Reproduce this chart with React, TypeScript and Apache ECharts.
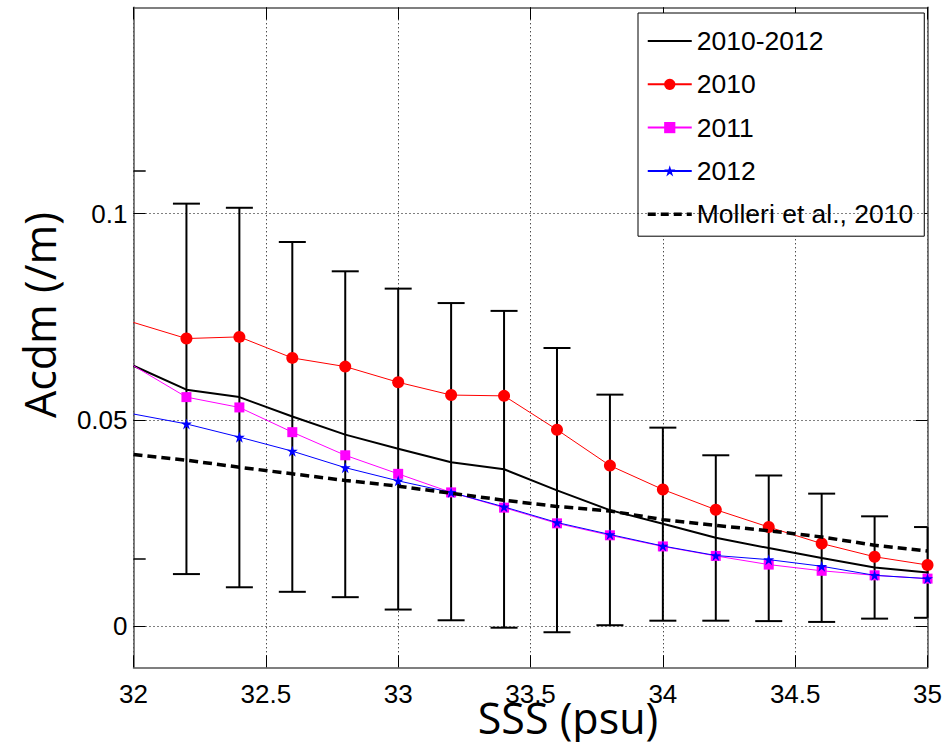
import React, { useEffect, useRef } from "react";
import * as echarts from "echarts";

// ---- data ----
const sss = [32, 32.2, 32.4, 32.6, 32.8, 33, 33.2, 33.4, 33.6, 33.8, 34, 34.2, 34.4, 34.6, 34.8, 35];
const mean2010_2012 = [0.0631, 0.0573, 0.0555, 0.0508, 0.0464, 0.0430, 0.0397, 0.0380, 0.0329, 0.0281, 0.0248, 0.0214, 0.0189, 0.0165, 0.0142, 0.0130];
const y2010 = [0.0736, 0.0697, 0.0701, 0.0650, 0.0629, 0.0591, 0.0560, 0.0558, 0.0476, 0.0389, 0.0331, 0.0282, 0.0240, 0.0200, 0.0168, 0.0148];
const y2011 = [0.0631, 0.0555, 0.0530, 0.0470, 0.0414, 0.0369, 0.0324, 0.0287, 0.0249, 0.0220, 0.0193, 0.0170, 0.0149, 0.0134, 0.0123, 0.0115];
const y2012 = [0.0514, 0.0490, 0.0458, 0.0424, 0.0384, 0.0352, 0.0324, 0.0289, 0.0251, 0.0222, 0.0194, 0.0171, 0.0161, 0.0145, 0.0123, 0.0115];
const molleri = [0.0416, 0.0402, 0.0385, 0.0369, 0.0353, 0.0339, 0.0322, 0.0305, 0.0290, 0.0279, 0.0258, 0.0244, 0.0231, 0.0216, 0.0196, 0.0182];

const errX = [32.2, 32.4, 32.6, 32.8, 33, 33.2, 33.4, 33.6, 33.8, 34, 34.2, 34.4, 34.6, 34.8, 35];
const errUpper = [0.1024, 0.1014, 0.0931, 0.0860, 0.0818, 0.0783, 0.0764, 0.0674, 0.0561, 0.0481, 0.0414, 0.0365, 0.0321, 0.0266, 0.0240];
const errLower = [0.0126, 0.0094, 0.0083, 0.0070, 0.0040, 0.0014, -0.0004, -0.0015, 0.0002, 0.0013, 0.0013, 0.0012, 0.0010, 0.0018, 0.0020];

const yTickValues = [0, 0.05, 0.1];
const strayLeftTicks = [0.0162, 0.1103];

const legendNames = ["2010-2012", "2010", "2011", "2012", "Molleri et al., 2010"];

const STAR = "path://M50,2 L61,36 L97,36 L68,57 L79,92 L50,70 L21,92 L32,57 L3,36 L39,36 Z";

const pairs = (ys: number[], hideFirst: boolean) =>
  sss.map((x, i) => (hideFirst && i === 0 ? { value: [x, ys[i]], symbol: "none" } : [x, ys[i]]));

export default function App() {
  const ref = useRef<HTMLDivElement>(null);

  useEffect(() => {
    if (!ref.current) return;
    const chart = echarts.init(ref.current, null, { renderer: "svg" });
    const axisLineStyle = { color: "#555", width: 1.5 };
    const tickStyle = { color: "#000", width: 1 };
    const labelFont = { fontSize: 26, fontFamily: "Liberation Sans", color: "#000" };

    const legendData = legendNames.map((n, i) => {
      if (i === 0) return { name: n, itemStyle: { opacity: 0 } };
      if (i === 4) return { name: n, itemStyle: { opacity: 0 }, lineStyle: { width: 3.5, type: [8, 5], color: "#000" } };
      return { name: n };
    });

    const option: any = {
      animation: false,
      backgroundColor: "#fff",
      grid: { left: 133.5, right: 16.5, top: 7.3, bottom: 74.7, show: false },
      xAxis: [
        {
          type: "value", min: 32, max: 35, interval: 0.5, position: "bottom",
          axisLine: { show: true, onZero: false, lineStyle: axisLineStyle },
          axisTick: { show: true, inside: true, length: 12, lineStyle: tickStyle },
          axisLabel: { ...labelFont, margin: 14, formatter: (v: number) => String(v) },
          splitLine: { show: true, lineStyle: { color: "#000", width: 1, type: [1, 3] } },
        },
        {
          type: "value", min: 32, max: 35, interval: 0.5, position: "top",
          axisLine: { show: true, onZero: false, lineStyle: axisLineStyle },
          axisTick: { show: true, inside: true, length: 12, lineStyle: tickStyle },
          axisLabel: { show: false },
          splitLine: { show: false },
        },
      ],
      yAxis: [
        {
          type: "value", min: -0.01, max: 0.15, position: "left",
          axisLine: { show: true, onZero: false, lineStyle: axisLineStyle },
          axisTick: { show: true, inside: true, length: 12, lineStyle: tickStyle, customValues: yTickValues },
          axisLabel: { ...labelFont, margin: 6, customValues: yTickValues, formatter: (v: number) => String(v) },
          splitLine: { show: false },
        },
        {
          type: "value", min: -0.01, max: 0.15, position: "right",
          axisLine: { show: true, onZero: false, lineStyle: axisLineStyle },
          axisTick: { show: true, inside: true, length: 12, lineStyle: tickStyle, customValues: yTickValues },
          axisLabel: { show: false },
          splitLine: { show: false },
        },
      ],
      legend: {
        orient: "vertical", left: 638, top: 13,
        padding: [13, 11, 7, 8], itemGap: 13.3, itemWidth: 44, itemHeight: 14,
        backgroundColor: "#fff", borderColor: "#000", borderWidth: 1, borderRadius: 0,
        selectedMode: false,
        textStyle: { fontSize: 26.5, fontFamily: "Liberation Sans", color: "#000", lineHeight: 30 },
        data: legendData,
      },
      graphic: [
        {
          type: "text", x: 568, y: 717,
          style: { text: "SSS (psu)", fontSize: 43, fontFamily: "Open Sans", fill: "#000", align: "center", verticalAlign: "middle" },
        },
        {
          type: "text", x: 39, y: 315, rotation: Math.PI / 2,
          style: { text: "Acdm (/m)", fontSize: 43, fontFamily: "Open Sans", fill: "#000", align: "center", verticalAlign: "middle" },
        },
      ],
      series: [
        {
          type: "custom", name: "errorbars", z: 2,
          data: errX.map((x, i) => [x, errLower[i], errUpper[i]]),
          encode: { x: 0, y: [1, 2] },
          renderItem: (params: any, api: any) => {
            const x = api.value(0);
            const pLo = api.coord([x, api.value(1)]);
            const pHi = api.coord([x, api.value(2)]);
            const cs = params.coordSys;
            const right = cs.x + cs.width;
            const hw = 13.5;
            const style = { stroke: "#000", lineWidth: 2 };
            return {
              type: "group",
              children: [
                { type: "line", shape: { x1: pLo[0], y1: pLo[1], x2: pHi[0], y2: pHi[1] }, style },
                { type: "line", shape: { x1: pLo[0] - hw, y1: pLo[1], x2: Math.min(pLo[0] + hw, right), y2: pLo[1] }, style },
                { type: "line", shape: { x1: pHi[0] - hw, y1: pHi[1], x2: Math.min(pHi[0] + hw, right), y2: pHi[1] }, style },
              ],
            };
          },
        },
        {
          type: "line", name: "2010-2012", z: 3,
          data: pairs(mean2010_2012, false),
          symbol: "none",
          lineStyle: { color: "#000", width: 2 },
          itemStyle: { color: "#000" },
          markLine: {
            silent: true, symbol: ["none", "none"], label: { show: false }, animation: false,
            lineStyle: { color: "#000", width: 1, type: [1, 3] },
            data: [
              ...yTickValues.map((v) => ({ yAxis: v })),
              ...strayLeftTicks.map((v) => [
                { coord: [32, v], lineStyle: { type: "solid", width: 1.5, color: "#000" } },
                { coord: [32.046, v] },
              ]),
            ],
          },
        },
        {
          type: "line", name: "2010", z: 4,
          data: pairs(y2010, true),
          symbol: "circle", symbolSize: 12, showAllSymbol: true,
          lineStyle: { color: "#ff0000", width: 1 },
          itemStyle: { color: "#ff0000" },
        },
        {
          type: "line", name: "2011", z: 5,
          data: pairs(y2011, true),
          symbol: "rect", symbolSize: 10, showAllSymbol: true,
          lineStyle: { color: "#ff00ff", width: 1 },
          itemStyle: { color: "#ff00ff" },
        },
        {
          type: "line", name: "2012", z: 6,
          data: pairs(y2012, true),
          symbol: STAR, symbolSize: 11, showAllSymbol: true,
          lineStyle: { color: "#0000ff", width: 1 },
          itemStyle: { color: "#0000ff" },
        },
        {
          type: "line", name: "Molleri et al., 2010", z: 7,
          data: pairs(molleri, false),
          symbol: "none",
          lineStyle: { color: "#000", width: 3.5, type: [9, 5] },
          itemStyle: { color: "#000" },
        },
      ],
    };
    chart.setOption(option);
    return () => chart.dispose();
  }, []);

  return (
    <div
      ref={ref}
      style={{ position: "fixed", left: 0, top: 0, width: 945, height: 742, background: "#fff" }}
    />
  );
}
